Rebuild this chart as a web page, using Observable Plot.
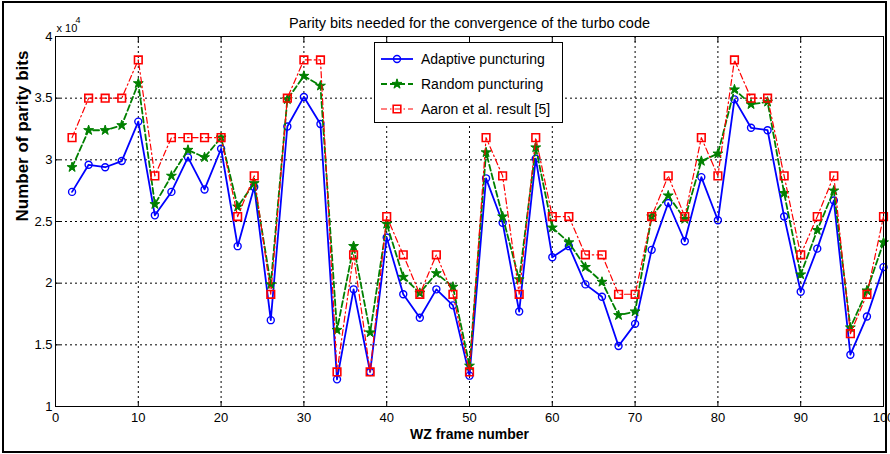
<!DOCTYPE html>
<html><head><meta charset="utf-8">
<script src="https://cdn.jsdelivr.net/npm/d3@7"></script>
<script src="https://cdn.jsdelivr.net/npm/@observablehq/plot@0.6"></script>
<style>
html,body{margin:0;padding:0;background:#fff;}
#wrap{position:relative;width:890px;height:454px;overflow:hidden;background:#fff;}
#chart{position:absolute;left:0;top:0;}
#border{position:absolute;left:2px;top:1px;width:885px;height:452px;border:2px solid #000;box-sizing:border-box;pointer-events:none;}
#legend{position:absolute;left:374px;top:42px;}
</style></head>
<body>
<div id="wrap"><div id="chart"></div><div id="border"></div><svg id="legend" width="189" height="81"></svg></div>
<script>
// ---- data (values in units of 10^4 parity bits) ----
const frames   = [2,4,6,8,10,12,14,16,18,20,22,24,26,28,30,32,34,36,38,40,42,44,46,48,50,52,54,56,58,60,62,64,66,68,70,72,74,76,78,80,82,84,86,88,90,92,94,96,98,100];
const adaptive = [2.74,2.96,2.94,2.99,3.31,2.55,2.74,3.02,2.76,3.09,2.30,2.78,1.70,3.27,3.51,3.29,1.22,1.95,1.28,2.37,1.91,1.72,1.95,1.82,1.25,2.85,2.49,1.77,3.01,2.21,2.30,1.99,1.89,1.49,1.67,2.27,2.65,2.34,2.86,2.51,3.49,3.26,3.24,2.54,1.93,2.28,2.67,1.42,1.73,2.13];
const random   = [2.94,3.24,3.24,3.28,3.62,2.64,2.87,3.08,3.02,3.18,2.62,2.81,1.99,3.49,3.68,3.60,1.62,2.30,1.60,2.48,2.05,1.92,2.08,1.97,1.33,3.06,2.54,2.03,3.10,2.45,2.33,2.13,2.01,1.74,1.77,2.54,2.71,2.52,2.99,3.05,3.57,3.45,3.47,2.73,2.07,2.43,2.75,1.64,1.94,2.33];
const aaron    = [3.18,3.50,3.50,3.50,3.81,2.87,3.18,3.18,3.18,3.18,2.54,2.87,1.91,3.50,3.81,3.81,1.28,2.23,1.28,2.54,2.23,1.91,2.23,1.91,1.28,3.18,2.87,1.91,3.18,2.54,2.54,2.23,2.23,1.91,1.91,2.54,2.87,2.54,3.18,2.87,3.81,3.50,3.50,2.87,2.23,2.54,2.87,1.59,1.91,2.54];
const seriesNames = ["Adaptive puncturing","Random puncturing","Aaron et al. result [5]"];
const xTicks = [0,10,20,30,40,50,60,70,80,90,100];
const yTicks = [1,1.5,2,2.5,3,3.5,4];
const titleText = "Parity bits needed for the convergence of the turbo code";
const xLabel = "WZ frame number";
const yLabel = "Number of parity bits";
const expBase = "x 10", expPow = "4";

// ---- styles ----
const SANS = "'Liberation Sans', Arial, Helvetica, sans-serif";
const NARROW = "'Liberation Sans Narrow', 'Arial Narrow', 'Liberation Sans', sans-serif";
const styles = [
  {color:"#0000ff", dash:null, width:1.8, symbol:"circle", r:3.5, fill:"none", sw:1.4},
  {color:"#008000", dash:"6,3", width:1.8, symbol:"star", r:3.1, fill:"#008000", sw:1},
  {color:"#ff0000", dash:"6,3,1.5,3", width:1.2, symbol:"square", r:4.3, fill:"none", sw:1.6}
];
const tables = [adaptive, random, aaron].map(arr => frames.map((f,i)=>({frame:f, value:arr[i]})));

const seriesMarks = [];
tables.forEach((t,i)=>{
  const s = styles[i];
  seriesMarks.push(Plot.line(t,{x:"frame",y:"value",stroke:s.color,strokeWidth:s.width,strokeDasharray:s.dash}));
  seriesMarks.push(Plot.dot(t,{x:"frame",y:"value",symbol:s.symbol,r:s.r,stroke:s.color,strokeWidth:s.sw,fill:s.fill}));
});

const grid = {stroke:"#000",strokeOpacity:1,strokeDasharray:"2,3",strokeWidth:1};
const chart = Plot.plot({
  width:890,height:454,
  marginLeft:55,marginRight:7,marginTop:36,marginBottom:48,
  style:{background:"transparent",fontFamily:SANS,color:"#000",overflow:"visible"},
  x:{domain:[0,100]},
  y:{domain:[1,4]},
  marks:[
    Plot.gridX(xTicks,grid),
    Plot.gridY(yTicks,grid),
    Plot.frame({stroke:"#000",strokeWidth:1}),
    Plot.axisX(xTicks,{anchor:"bottom",tickSize:-5,tickPadding:11,fontFamily:NARROW,fontSize:13,label:null,tickFormat:d=>String(d)}),
    Plot.axisX(xTicks,{anchor:"top",tickSize:-5,tickFormat:()=>"",label:null}),
    Plot.axisY(yTicks,{anchor:"left",tickSize:-5,tickPadding:8,fontFamily:NARROW,fontSize:13,label:null,tickFormat:d=>String(d)}),
    Plot.axisY(yTicks,{anchor:"right",tickSize:-5,tickFormat:()=>"",label:null}),
    ...seriesMarks,
    Plot.text([titleText],{frameAnchor:"top",dy:-19,fontSize:14.5,fill:"#000"}),
    Plot.text([xLabel],{frameAnchor:"bottom",dy:32,fontSize:14,fontWeight:"bold",fill:"#000"}),
    Plot.text([yLabel],{frameAnchor:"left",dx:-33,rotate:-90,fontSize:17,fontWeight:"bold",fill:"#000"}),
    Plot.text([expBase],{frameAnchor:"top-left",dx:1,dy:-12,textAnchor:"start",fontSize:11,fontFamily:NARROW,fill:"#000"}),
    Plot.text([expPow],{frameAnchor:"top-left",dx:20,dy:-20,textAnchor:"start",fontSize:9,fontFamily:NARROW,fill:"#000"})
  ]
});
document.getElementById("chart").appendChild(chart);

// ---- legend ----
const lg = d3.select("#legend");
lg.append("rect").attr("x",0.5).attr("y",0.5).attr("width",188).attr("height",80).attr("fill","#fff").attr("stroke","#000");
seriesNames.forEach((name,i)=>{
  const s = styles[i];
  const cy = 17 + i*25;
  const g = lg.append("g");
  g.append("line").attr("x1",7).attr("x2",39).attr("y1",cy).attr("y2",cy)
    .attr("stroke",s.color).attr("stroke-width",s.width).attr("stroke-dasharray",s.dash);
  const sym = {circle:d3.symbolCircle, star:d3.symbolStar, square:d3.symbolSquare}[s.symbol];
  g.append("path").attr("transform",`translate(23,${cy})`)
    .attr("d",d3.symbol(sym, s.r*s.r*Math.PI)())
    .attr("fill",s.fill).attr("stroke",s.color).attr("stroke-width",s.sw);
  g.append("text").attr("x",47).attr("y",cy).attr("dy","0.35em")
    .attr("font-family",SANS).attr("font-size",14).attr("fill","#000").text(name);
});
</script>
</body></html>
